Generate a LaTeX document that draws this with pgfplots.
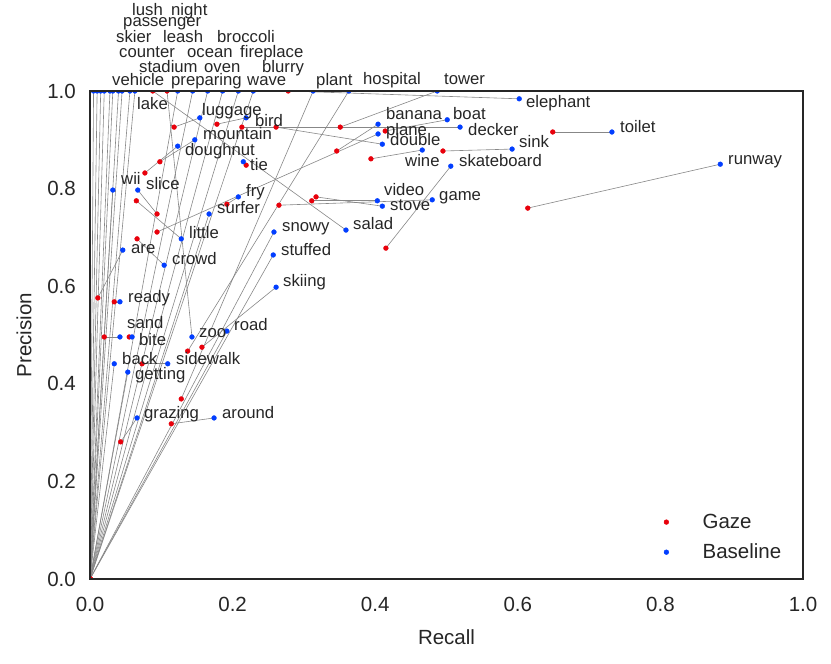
\documentclass[border=0pt]{standalone}
\usepackage{fontspec}
\setmainfont{Liberation Sans}
\usepackage{pgfplots}
\usepackage{pgfplotstable}
\pgfplotsset{compat=1.18}

\definecolor{gazered}{RGB}{232,0,11}
\definecolor{baseblue}{RGB}{2,62,255}
\definecolor{textgray}{RGB}{38,38,38}
\definecolor{linegray}{RGB}{135,135,135}

% word, gaze (recall, precision), baseline (recall, precision)
\pgfplotstableread{
word gx gy bx by
elephant 0.278 1.0 0.602 0.984
toilet 0.649 0.916 0.732 0.916
runway 0.614 0.760 0.884 0.850
sink 0.495 0.877 0.592 0.881
wine 0.394 0.861 0.466 0.879
skateboard 0.415 0.678 0.506 0.846
game 0.265 0.766 0.480 0.777
video 0.311 0.775 0.403 0.775
stove 0.317 0.783 0.410 0.764
decker 0.213 0.926 0.519 0.926
tower 0.351 0.926 0.487 1.0
luggage 0.118 0.926 0.154 0.945
bird 0.178 0.932 0.219 0.945
banana 0.346 0.877 0.404 0.932
plane 0.094 0.711 0.404 0.912
double 0.261 0.926 0.410 0.891
boat 0.414 0.918 0.501 0.941
mountain 0.098 0.855 0.147 0.900
doughnut 0.077 0.832 0.123 0.887
tie 0.219 0.848 0.215 0.855
fry 0.192 0.768 0.208 0.783
salad 0.088 1.0 0.359 0.715
little 0.065 0.775 0.128 0.697
slice 0.094 0.748 0.067 0.797
wii 0 0 0.032 0.797
are 0.011 0.576 0.046 0.674
crowd 0.066 0.697 0.104 0.643
surfer 0 0 0.167 0.748
snowy 0 0 0.258 0.711
stuffed 0 0 0.257 0.664
skiing 0.157 0.475 0.261 0.598
road 0 0 0.192 0.508
zoo 0.108 1.0 0.143 0.496
sidewalk 0.073 0.441 0.109 0.441
back 0 0 0.034 0.441
getting 0 0 0.053 0.424
sand 0.020 0.496 0.042 0.496
bite 0.055 0.496 0.059 0.496
ready 0.034 0.568 0.042 0.568
grazing 0.043 0.281 0.066 0.330
around 0.114 0.318 0.174 0.330
plant 0.128 0.369 0.313 1.0
hospital 0.137 0.467 0.363 1.0
vehicle 0 0 0.028 1.0
stadium 0 0 0.032 1.0
counter 0 0 0.056 1.0
skier 0 0 0.063 1.0
passenger 0 0 0.010 1.0
lush 0 0 0.015 1.0
lake 0 0 0.020 1.0
preparing 0 0 0.123 1.0
leash 0 0 0.144 1.0
night 0 0 0.165 1.0
oven 0 0 0.186 1.0
ocean 0 0 0.208 1.0
broccoli 0 0 0.229 1.0
wave 0 0 0.005 1.0
fireplace 0 0 0.040 1.0
blurry 0 0 0.045 1.0
}\pairs

\tikzset{lab/.style={font=\fontsize{16.7}{20}\selectfont, text=textgray, inner sep=0pt, anchor=base west}}
\pgfplotsset{dotlegend/.style={legend image code/.code={%
  \path (-10pt,0pt) (34pt,0pt);
  \draw[##1] plot coordinates {(0pt,0pt)};}}}

\begin{document}
\begin{tikzpicture}
\begin{axis}[
  width=713pt, height=488pt, scale only axis,
  xmin=0, xmax=1, ymin=0, ymax=1,
  xtick={0,0.2,0.4,0.6,0.8,1.0},
  ytick={0,0.2,0.4,0.6,0.8,1.0},
  major tick length=0pt,
  ticklabel style={/pgf/number format/fixed, /pgf/number format/precision=1,
    /pgf/number format/fixed zerofill, /pgf/number format/assume math mode=true,
    font=\fontsize{20.5}{24}\selectfont, text=textgray, inner sep=0pt},
  yticklabel style={xshift=-14pt},
  xticklabel style={yshift=-18pt},
  axis line style={draw=textgray, line width=2.5pt},
  axis on top,
  clip mode=individual,
  clip marker paths=true,
  xlabel={Recall}, ylabel={Precision},
  every axis x label/.style={at={(rel axis cs:0.5,-0.119)}, anchor=center,
    font=\fontsize{20.5}{24}\selectfont, text=textgray},
  every axis y label/.style={at={(rel axis cs:-0.0926,0.5)}, anchor=center, rotate=90,
    font=\fontsize{20.5}{24}\selectfont, text=textgray},
  legend cell align=left,
  legend style={draw=none, fill=none, at={(rel axis cs:0.7896,0.1414)}, anchor=north west,
    font=\fontsize{20.5}{24}\selectfont, text=textgray, row sep=10pt},
]
\addplot[linegray, line width=0.6pt, forget plot,
  quiver={u=\thisrow{bx}-\thisrow{gx}, v=\thisrow{by}-\thisrow{gy}}]
  table[x=gx, y=gy] {\pairs};
\addplot[only marks, mark=*, mark size=2.4pt, gazered, dotlegend]
  table[x=gx, y=gy] {\pairs};
\addlegendentry{Gaze}
\addplot[only marks, mark=*, mark size=2.4pt, baseblue, dotlegend]
  table[x=bx, y=by] {\pairs};
\addlegendentry{Baseline}

% word labels
\node[lab] at (axis cs:0.6115,0.9658) {elephant};
\node[lab] at (axis cs:0.4151,0.9406) {banana};
\node[lab] at (axis cs:0.5091,0.9406) {boat};
\node[lab] at (axis cs:0.4151,0.9098) {plane};
\node[lab] at (axis cs:0.5302,0.9084) {decker};
\node[lab] at (axis cs:0.4208,0.8873) {double};
\node[lab] at (axis cs:0.6017,0.8832) {sink};
\node[lab] at (axis cs:0.4418,0.8443) {wine};
\node[lab] at (axis cs:0.5175,0.8463) {skateboard};
\node[lab] at (axis cs:0.4123,0.7855) {video};
\node[lab] at (axis cs:0.4208,0.7547) {stove};
\node[lab] at (axis cs:0.4895,0.7752) {game};
\node[lab] at (axis cs:0.3689,0.7152) {salad};
\node[lab] at (axis cs:0.2693,0.7111) {snowy};
\node[lab] at (axis cs:0.2679,0.6625) {stuffed};
\node[lab] at (axis cs:0.2707,0.5984) {skiing};
\node[lab] at (axis cs:0.7433,0.9145) {toilet};
\node[lab] at (axis cs:0.8948,0.8484) {runway};
\node[lab] at (axis cs:0.0589,1.1557) {lush};
\node[lab] at (axis cs:0.1136,1.1557) {night};
\node[lab] at (axis cs:0.0463,1.1318) {passenger};
\node[lab] at (axis cs:0.0365,1.0990) {skier};
\node[lab] at (axis cs:0.1024,1.0990) {leash};
\node[lab] at (axis cs:0.1781,1.0990) {broccoli};
\node[lab] at (axis cs:0.0407,1.0691) {counter};
\node[lab] at (axis cs:0.1360,1.0691) {ocean};
\node[lab] at (axis cs:0.2104,1.0691) {fireplace};
\node[lab] at (axis cs:0.0687,1.0383) {stadium};
\node[lab] at (axis cs:0.1599,1.0383) {oven};
\node[lab] at (axis cs:0.2412,1.0383) {blurry};
\node[lab] at (axis cs:0.0309,1.0109) {vehicle};
\node[lab] at (axis cs:0.1136,1.0109) {preparing};
\node[lab] at (axis cs:0.2202,1.0109) {wave};
\node[lab] at (axis cs:0.3170,1.0109) {plant};
\node[lab] at (axis cs:0.3829,1.0123) {hospital};
\node[lab] at (axis cs:0.4965,1.0123) {tower};
\node[lab] at (axis cs:0.0659,0.9611) {lake};
\node[lab] at (axis cs:0.1571,0.9508) {luggage};
\node[lab] at (axis cs:0.2314,0.9268) {bird};
\node[lab] at (axis cs:0.1585,0.8996) {mountain};
\node[lab] at (axis cs:0.1332,0.8668) {doughnut};
\node[lab] at (axis cs:0.2244,0.8381) {tie};
\node[lab] at (axis cs:0.0435,0.8074) {wii};
\node[lab] at (axis cs:0.0785,0.7986) {slice};
\node[lab] at (axis cs:0.2188,0.7848) {fry};
\node[lab] at (axis cs:0.1781,0.7494) {surfer};
\node[lab] at (axis cs:0.1388,0.6982) {little};
\node[lab] at (axis cs:0.0575,0.6660) {are};
\node[lab] at (axis cs:0.1150,0.6449) {crowd};
\node[lab] at (axis cs:0.0533,0.5662) {ready};
\node[lab] at (axis cs:0.0519,0.5137) {sand};
\node[lab] at (axis cs:0.0687,0.4795) {bite};
\node[lab] at (axis cs:0.1529,0.4953) {zoo};
\node[lab] at (axis cs:0.2020,0.5088) {road};
\node[lab] at (axis cs:0.0449,0.4400) {back};
\node[lab] at (axis cs:0.1206,0.4400) {sidewalk};
\node[lab] at (axis cs:0.0631,0.4078) {getting};
\node[lab] at (axis cs:0.0757,0.3293) {grazing};
\node[lab] at (axis cs:0.1851,0.3293) {around};

\coordinate (bbl) at (rel axis cs:-0.12623,-0.17418);
\coordinate (bur) at (rel axis cs:1.03927,1.18648);
\end{axis}
\pgfresetboundingbox
\path[use as bounding box] (bbl) rectangle (bur);
\end{tikzpicture}
\end{document}
